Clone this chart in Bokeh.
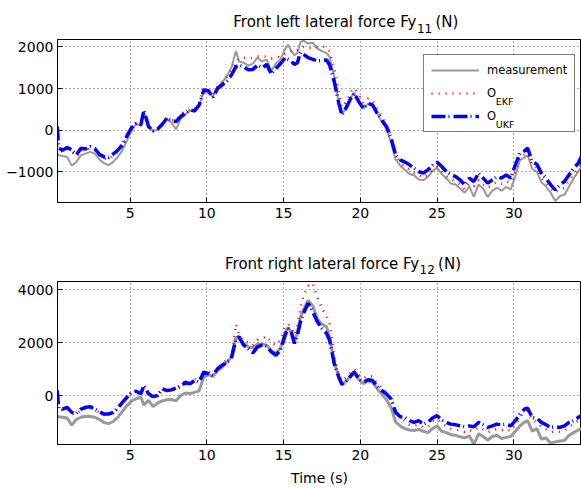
from bokeh.plotting import figure
from bokeh.models import Range1d, FixedTicker, Legend, LegendItem
from bokeh.core.properties import value
from bokeh.layouts import column
from bokeh.embed import file_html
from bokeh.resources import INLINE

# ---------------- data ----------------
time_s = [0.25, 0.35, 0.6, 0.9, 1.2, 1.5, 1.8, 2.1, 2.4, 2.7,
          3.0, 3.3, 3.6, 3.9, 4.2, 4.5, 4.8, 5.1, 5.4, 5.7,
          5.9, 6.2, 6.5, 6.8, 7.1, 7.4, 7.7, 8.0, 8.3, 8.6,
          8.9, 9.2, 9.5, 9.8, 10.1, 10.4, 10.7, 11.0, 11.3, 11.6,
          11.9, 12.1, 12.4, 12.7, 13.0, 13.3, 13.6, 13.9, 14.2, 14.5,
          14.8, 15.1, 15.3, 15.5, 15.7, 15.9, 16.1, 16.3, 16.6, 16.9,
          17.2, 17.5, 17.8, 18.0, 18.3, 18.6, 18.8, 19.1, 19.4, 19.6,
          19.9, 20.2, 20.5, 20.8, 21.1, 21.4, 21.7, 22.0, 22.3, 22.6,
          22.9, 23.2, 23.5, 23.8, 24.1, 24.4, 24.7, 25.0, 25.3, 25.6,
          25.9, 26.2, 26.5, 26.8, 27.1, 27.4, 27.7, 28.0, 28.3, 28.6,
          28.9, 29.2, 29.5, 29.8, 30.1, 30.4, 30.7, 30.9, 31.2, 31.5,
          31.8, 32.1, 32.4, 32.7, 33.0, 33.3, 33.6, 33.9, 34.2, 34.4]

# Front left lateral force Fy11 (N)
fl_meas = [-560, -600, -620, -640, -850, -760, -600, -560, -520, -560,
           -700, -790, -840, -760, -640, -480, -250, 0, 150, 120,
           420, 80, -20, 20, 140, 280, 180, 20, 280, 380,
           470, 440, 580, 930, 900, 820, 1040, 1150, 1300, 1500,
           1900, 1650, 1620, 1550, 1600, 1740, 1650, 1700, 1420, 1600,
           1700, 1950, 2050, 1900, 1800, 1850, 2120, 2150, 2080, 2100,
           1960, 1900, 1850, 1760, 1300, 650, 420, 500, 800, 900,
           700, 520, 640, 600, 400, 200, 40, -300, -700, -850,
           -950, -1050, -1080, -1180, -1200, -1120, -980, -900, -1050, -1150,
           -1280, -1300, -1400, -1500, -1350, -1600, -1300, -1400, -1600, -1450,
           -1380, -1450, -1360, -1420, -1100, -720, -650, -600, -930, -1000,
           -1250, -1350, -1500, -1700, -1580, -1550, -1350, -1150, -1000, -850]
fl_ekf = [-380, -480, -520, -450, -520, -640, -480, -490, -430, -470,
          -600, -680, -700, -610, -520, -380, -150, 50, 170, 140,
          420, 100, 0, 40, 160, 300, 240, 230, 380, 460,
          500, 500, 640, 1000, 980, 850, 1050, 1150, 1280, 1450,
          1650, 1720, 1740, 1720, 1740, 1770, 1780, 1760, 1720, 1740,
          1760, 1830, 1870, 1900, 1870, 1920, 1960, 2000, 1960, 1980,
          2000, 2020, 1980, 1880, 1500, 900, 550, 700, 930, 1010,
          850, 650, 760, 720, 500, 320, 150, -120, -560, -780,
          -880, -940, -1020, -1080, -1140, -1060, -950, -880, -980, -1100,
          -1180, -1220, -1300, -1420, -1280, -1340, -1200, -1300, -1380, -1300,
          -1240, -1280, -1220, -1260, -1000, -650, -580, -550, -840, -900,
          -1150, -1280, -1400, -1500, -1420, -1380, -1200, -1060, -920, -780]
fl_ukf = [90, -430, -480, -415, -470, -590, -430, -450, -395, -440,
          -580, -640, -650, -570, -480, -350, -130, 60, 170, 130,
          480, 90, -15, 30, 145, 290, 225, 210, 330, 410,
          490, 465, 605, 965, 950, 790, 1005, 1085, 1180, 1325,
          1525, 1565, 1520, 1450, 1460, 1560, 1490, 1580, 1350, 1480,
          1600, 1740, 1700, 1660, 1580, 1620, 1870, 1820, 1740, 1700,
          1665, 1670, 1685, 1565, 1165, 645, 365, 560, 780, 885,
          685, 525, 645, 605, 405, 245, 90, -190, -590, -710,
          -765, -830, -910, -990, -1030, -950, -845, -765, -870, -990,
          -1070, -1110, -1190, -1310, -1150, -1230, -1030, -1150, -1270, -1190,
          -1110, -1150, -1070, -1150, -830, -550, -495, -430, -750, -815,
          -1030, -1150, -1310, -1430, -1310, -1230, -1070, -910, -790, -630]

# Front right lateral force Fy12 (N)
fr_meas = [-780, -800, -820, -850, -1120, -900, -820, -780, -790, -820,
           -900, -1020, -1060, -980, -820, -600, -380, -200, -120, -60,
           -350, -180, -420, -280, -200, -160, -150, -200, 0, 100,
           80, 120, 180, 700, 780, 720, 950, 1080, 1250, 1450,
           2200, 2150, 1950, 1850, 1800, 1950, 1950, 1900, 1700, 1600,
           1800, 2400, 2550, 2400, 2000, 2400, 2950, 3250, 3600, 3400,
           2900, 2700, 2600, 2200, 1250, 700, 430, 550, 760, 880,
           600, 450, 560, 500, 250, 50, -150, -450, -1000, -1150,
           -1250, -1300, -1320, -1280, -1350, -1400, -1250, -1150, -1350, -1400,
           -1480, -1500, -1560, -1600, -1520, -1850, -1450, -1550, -1680, -1550,
           -1500, -1620, -1580, -1550, -1350, -1150, -1000, -950, -1350, -1250,
           -1650, -1600, -1800, -1750, -1720, -1700, -1500, -1400, -1300, -1250]
fr_ekf = [-350, -520, -560, -500, -680, -700, -560, -480, -450, -540,
          -640, -730, -720, -660, -500, -280, -80, 110, 170, 80,
          360, 80, -20, 20, 260, 220, 250, 320, 380, 560,
          480, 620, 560, 940, 900, 840, 1080, 1200, 1350, 1500,
          2700, 2300, 2050, 2000, 1900, 2100, 2150, 2250, 2000, 1900,
          2100, 2600, 2700, 2550, 2300, 2600, 3300, 3800, 4150, 4250,
          3700, 3300, 3000, 2700, 1500, 800, 550, 700, 900, 1000,
          780, 650, 750, 720, 450, 280, 120, -80, -600, -850,
          -950, -1100, -1150, -1100, -1200, -1180, -980, -880, -1050, -1150,
          -1250, -1280, -1330, -1380, -1300, -1350, -1200, -1280, -1380, -1330,
          -1260, -1300, -1260, -1330, -1100, -820, -620, -580, -940, -1000,
          -1180, -1280, -1380, -1350, -1380, -1320, -1180, -1080, -940, -860]
fr_ukf = [200, -500, -510, -445, -635, -670, -510, -445, -420, -510,
          -610, -700, -700, -635, -470, -255, -65, 125, 165, 65,
          380, 65, -40, 0, 255, 190, 215, 290, 320, 510,
          445, 570, 510, 890, 825, 760, 1015, 1145, 1270, 1395,
          2160, 2220, 1905, 1780, 1615, 1840, 1905, 1865, 1650, 1525,
          1715, 2285, 2540, 2415, 1970, 2285, 2795, 3110, 3490, 3175,
          2795, 2540, 2350, 2095, 1205, 700, 420, 570, 760, 890,
          635, 510, 600, 570, 345, 190, 65, -125, -635, -800,
          -825, -950, -1015, -950, -1080, -1015, -850, -760, -925, -1015,
          -1080, -1105, -1145, -1180, -1145, -1180, -1015, -1105, -1205, -1145,
          -1080, -1105, -1080, -1145, -950, -700, -510, -480, -825, -850,
          -1015, -1105, -1205, -1180, -1205, -1145, -1015, -950, -825, -760]

x_ticks = [5, 10, 15, 20, 25, 30]
fl_y_ticks = [-1000, 0, 1000, 2000]
fr_y_ticks = [0, 2000, 4000]
title_main = ["Front left lateral force Fy", "Front right lateral force Fy"]
title_sub = ["11", "12"]
title_unit = "(N)"
legend_labels = ["measurement", "O", "O"]
legend_subs = ["EKF", "UKF"]
x_label = "Time (s)"

# ---------------- styling / layout ----------------
FONT = "DejaVu Sans"
GRAY = "#999999"
RED = "#ff0000"
BLUE = "#0000ff"
X0, X1 = 0.27, 34.41
W = 581
FRAME_L, FRAME_W, FRAME_H = 57, 524, 163


def tick_text(v):
    return ("\u2212" + str(abs(v))) if v < 0 else str(v)


def make_fig(height, b_bottom, y0, y1, yticks):
    p = figure(width=W, height=height, title=None,
               output_backend="svg", toolbar_location=None,
               x_range=Range1d(X0, X1), y_range=Range1d(y0, y1),
               min_border_left=FRAME_L, min_border_right=0,
               min_border_top=1, min_border_bottom=b_bottom)
    p.background_fill_color = "white"
    p.border_fill_color = "white"
    p.outline_line_color = "black"
    p.outline_line_width = 1
    p.outline_line_alpha = 1
    p.xaxis.ticker = FixedTicker(ticks=x_ticks)
    p.yaxis.ticker = FixedTicker(ticks=yticks)
    p.yaxis.major_label_overrides = {v: tick_text(v) for v in yticks}
    for ax in (p.xaxis[0], p.yaxis[0]):
        ax.axis_line_color = "black"
        ax.major_tick_in = 5
        ax.major_tick_out = 0
        ax.major_tick_line_color = "black"
        ax.minor_tick_line_color = None
        ax.major_label_text_font = FONT
        ax.major_label_text_font_size = "14px"
        ax.major_label_text_color = "black"
        ax.major_label_standoff = 5
    p.yaxis.major_label_standoff = 4
    for g in (p.xgrid[0], p.ygrid[0]):
        g.grid_line_color = "black"
        g.grid_line_alpha = 0.65
        g.grid_line_dash = "1 3"
        g.grid_line_width = 1
    return p


def title_fig(height, main, sub, x_sub, base):
    """A strip above each axes that carries its title (pixel coordinates)."""
    t = figure(width=W, height=height, title=None,
               output_backend="svg", toolbar_location=None,
               x_range=Range1d(0, W), y_range=Range1d(height, 0),
               x_axis_type=None, y_axis_type=None,
               min_border_left=0, min_border_right=0,
               min_border_top=0, min_border_bottom=0)
    t.grid.visible = False
    t.outline_line_color = None
    t.background_fill_color = "white"
    t.border_fill_color = "white"
    t.text(x=[x_sub], y=[base], text=[main], text_font=value(FONT),
           text_font_size=value("15px"), text_align="right",
           text_baseline="alphabetic", text_color="black")
    t.text(x=[x_sub + 0.5], y=[base + 6], text=[sub], text_font=value(FONT),
           text_font_size=value("12px"), text_align="left",
           text_baseline="alphabetic", text_color="black")
    t.text(x=[x_sub + 21], y=[base], text=[title_unit], text_font=value(FONT),
           text_font_size=value("15px"), text_align="left",
           text_baseline="alphabetic", text_color="black")
    return t


def add_series(p, meas, ekf, ukf, meas_width):
    r_m = p.line(time_s, meas, line_color=GRAY, line_width=meas_width)
    r_e = p.line(time_s, ekf, line_color=RED, line_width=2.5, line_dash="1 6")
    r_u = p.line(time_s, ukf, line_color=BLUE, line_width=3.5, line_dash="14 3 1 4")
    return r_m, r_e, r_u


def to_data(px, py, frame_top, y0, y1):
    """convert a page pixel position into the plot's data coordinates"""
    xv = X0 + (px - FRAME_L) * (X1 - X0) / FRAME_W
    yv = y1 - (py - frame_top) * (y1 - y0) / FRAME_H
    return xv, yv


# ---------------- top plot ----------------
TOP1 = 39          # page y of the top frame edge
Y10, Y11 = -1734, 2177
t1 = title_fig(TOP1 - 1, title_main[0], title_sub[0], 398, 21.5)
p1 = make_fig(236 - TOP1 + 1, 236 - TOP1 - FRAME_H, Y10, Y11, fl_y_ticks)

# legend box geometry (page pixels)
LG_L, LG_T, LG_W, LG_H = 423, 56, 150.5, 76
LG_PAD, LG_ROW, LG_GAP, LG_GLYPH, LG_STANDOFF = 7, 16, 7, 48, 8

# white backing of the legend box (the legend itself is drawn transparent so
# that the subscripts drawn below it stay visible)
bx0, by0 = to_data(LG_L, LG_T + LG_H, TOP1, Y10, Y11)
bx1, by1 = to_data(LG_L + LG_W, LG_T, TOP1, Y10, Y11)

rm1, re1, ru1 = add_series(p1, fl_meas, fl_ekf, fl_ukf, 2)
p1.quad(left=[bx0], right=[bx1], bottom=[by0], top=[by1],
        fill_color="white", line_color=None)

legend = Legend(items=[LegendItem(label=legend_labels[0], renderers=[rm1]),
                       LegendItem(label=legend_labels[1], renderers=[re1]),
                       LegendItem(label=legend_labels[2], renderers=[ru1])],
                location=(LG_L - FRAME_L, TOP1 + FRAME_H - (LG_T + LG_H)),
                orientation="vertical",
                label_text_font=FONT, label_text_font_size="11.5px",
                label_text_color="black",
                glyph_width=LG_GLYPH, glyph_height=LG_ROW, label_height=LG_ROW,
                label_standoff=LG_STANDOFF, padding=LG_PAD, spacing=LG_GAP,
                margin=0, border_line_color="black", border_line_width=1,
                background_fill_alpha=0)
p1.add_layout(legend)

sub_x = LG_L + LG_PAD + LG_GLYPH + LG_STANDOFF + 9.2
rows = [LG_T + LG_PAD + LG_ROW / 2 + i * (LG_ROW + LG_GAP) for i in (1, 2)]
sx, sy1 = to_data(sub_x, rows[0] + 6.5, TOP1, Y10, Y11)
_, sy2 = to_data(sub_x, rows[1] + 6.5, TOP1, Y10, Y11)
p1.text(x=[sx, sx], y=[sy1, sy2], text=legend_subs, text_font=value(FONT),
        text_font_size=value("9.5px"), text_align="left",
        text_baseline="alphabetic", text_color="black")

# ---------------- bottom plot ----------------
P2_TOP = 236
TOP2 = 281
Y20, Y21 = -1850, 4313
t2 = title_fig(TOP2 - P2_TOP - 1, title_main[1], title_sub[1], 401, 263 - P2_TOP)
p2 = make_fig(490 - TOP2 + 1, 490 - TOP2 - FRAME_H, Y20, Y21, fr_y_ticks)
add_series(p2, fr_meas, fr_ekf, fr_ukf, 3)
p2.xaxis.axis_label = x_label
p2.xaxis.axis_label_text_font = FONT
p2.xaxis.axis_label_text_font_size = "14px"
p2.xaxis.axis_label_text_font_style = "normal"
p2.xaxis.axis_label_text_color = "black"
p2.xaxis.axis_label_standoff = 7

layout = column(t1, p1, t2, p2, spacing=0)
open("out.html", "w").write(file_html(layout, INLINE))
